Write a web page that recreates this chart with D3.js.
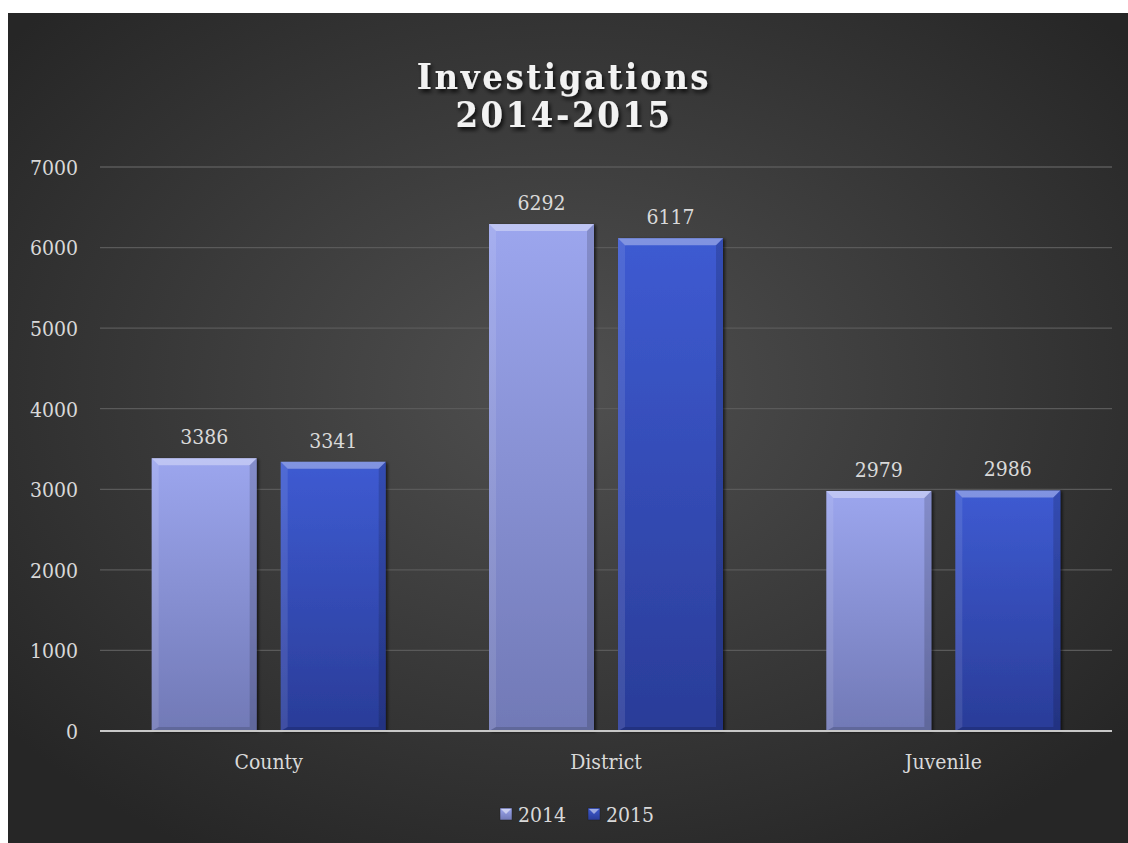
<!DOCTYPE html>
<html><head><meta charset="utf-8">
<script src="https://cdn.jsdelivr.net/npm/d3@7"></script>
<style>body{margin:0;background:#fff}svg{display:block}</style>
</head><body>
<script>
const categories = ["County", "District", "Juvenile"];
const seriesNames = ["2014", "2015"];
const values2014 = [3386, 6292, 2979];
const values2015 = [3341, 6117, 2986];
const yTicks = [0, 1000, 2000, 3000, 4000, 5000, 6000, 7000];
const titleLines = ["Investigations", "2014-2015"];

const W = 1128, H = 843;
const svg = d3.select("body").append("svg").attr("width", W).attr("height", H);
const defs = svg.append("defs");

const bg = defs.append("radialGradient").attr("id", "bg").attr("cx", "50%").attr("cy", "45%").attr("r", "65%");
bg.append("stop").attr("offset", "0%").attr("stop-color", "#505050");
bg.append("stop").attr("offset", "100%").attr("stop-color", "#262626");

const cols = [["#9ca6ee", "#7179b6"], ["#3e5bd2", "#2a3c98"]];
cols.forEach((c, i) => {
  const g = defs.append("linearGradient").attr("id", "bar" + i).attr("x1", 0).attr("y1", 0).attr("x2", 0).attr("y2", 1);
  g.append("stop").attr("offset", "0%").attr("stop-color", c[0]);
  g.append("stop").attr("offset", "100%").attr("stop-color", c[1]);
});
const sh = defs.append("filter").attr("id", "ts").attr("x", "-10%").attr("y", "-10%").attr("width", "120%").attr("height", "140%");
sh.append("feDropShadow").attr("dx", 2).attr("dy", 3).attr("stdDeviation", 2).attr("flood-color", "#000").attr("flood-opacity", 0.8);
const bs = defs.append("filter").attr("id", "bs").attr("x", "-10%").attr("y", "-5%").attr("width", "125%").attr("height", "110%");
bs.append("feDropShadow").attr("dx", 2).attr("dy", 1).attr("stdDeviation", 1.5).attr("flood-color", "#000").attr("flood-opacity", 0.6);

svg.append("rect").attr("x", 8).attr("y", 13).attr("width", W - 8).attr("height", H - 13).attr("fill", "url(#bg)");

const font = "'DejaVu Serif Condensed', 'DejaVu Serif', serif";
const fs = 21;

// title
svg.append("g").attr("filter", "url(#ts)").selectAll("text").data(titleLines).join("text")
  .attr("x", 564).attr("y", (d, i) => 89 + i * 38)
  .attr("text-anchor", "middle").attr("font-family", font).attr("font-weight", "bold")
  .attr("font-size", 36).attr("letter-spacing", 2.6).attr("fill", "#f2f2f2").text(d => d);

const x0 = d3.scaleBand().domain(categories).range([100, 1112]).paddingInner(0).paddingOuter(0);
const bw0 = x0.bandwidth();
const x1 = d3.scaleBand().domain(seriesNames).range([(bw0 - 234) / 2, (bw0 + 234) / 2]).paddingInner(24 / 129).paddingOuter(0);
const y = d3.scaleLinear().domain([0, 7000]).range([731, 167]);

// grid
svg.append("g").selectAll("line").data(yTicks.slice(1)).join("line")
  .attr("x1", 100).attr("x2", 1112).attr("y1", d => y(d)).attr("y2", d => y(d))
  .attr("stroke", "#5a5a5a").attr("stroke-width", 1.3);

// y axis labels
const ya = svg.append("g").attr("transform", "translate(78,0)")
  .call(d3.axisLeft(y).tickValues(yTicks).tickFormat(d3.format("d")).tickSize(0).tickPadding(0));
ya.select(".domain").remove();
ya.selectAll("text").attr("font-family", font).attr("font-size", fs).attr("fill", "#d9d9d9").attr("dy", "0.35em");

const data = categories.map((c, i) => ({ c, vals: [values2014[i], values2015[i]] }));

const groups = svg.append("g").selectAll("g").data(data).join("g")
  .attr("transform", d => `translate(${x0(d.c)},0)`);

groups.each(function (d) {
  const g = d3.select(this);
  d.vals.forEach((v, i) => {
    const bx = x1(seriesNames[i]), bw = x1.bandwidth(), by = y(v), bh = y(0) - y(v);
    const bg2 = g.append("g").attr("filter", "url(#bs)");
    bg2.append("rect").attr("x", bx).attr("y", by).attr("width", bw).attr("height", bh).attr("fill", `url(#bar${i})`);
    bg2.append("path").attr("d", `M${bx},${by}L${bx + bw},${by}L${bx + bw - 7},${by + 7}L${bx + 7},${by + 7}Z`)
      .attr("fill", "#ffffff").attr("opacity", 0.35);
    bg2.append("path").attr("d", `M${bx},${by}L${bx + 7},${by + 7}L${bx + 7},${by + bh - 4}L${bx},${by + bh}Z`)
      .attr("fill", "#ffffff").attr("opacity", 0.1);
    bg2.append("path").attr("d", `M${bx + bw},${by}L${bx + bw - 7},${by + 7}L${bx + bw - 7},${by + bh - 4}L${bx + bw},${by + bh}Z`)
      .attr("fill", "#000").attr("opacity", 0.15);
    bg2.append("path").attr("d", `M${bx},${by + bh}L${bx + 7},${by + bh - 4}L${bx + bw - 7},${by + bh - 4}L${bx + bw},${by + bh}Z`)
      .attr("fill", "#000").attr("opacity", 0.15);
    g.append("text").attr("x", bx + bw / 2).attr("y", by - 14).attr("text-anchor", "middle")
      .attr("font-family", font).attr("font-size", fs).attr("fill", "#d9d9d9").text(v);
  });
});

// x axis line
svg.append("line").attr("x1", 100).attr("x2", 1112).attr("y1", 731).attr("y2", 731)
  .attr("stroke", "#c8c8c8").attr("stroke-width", 2.2);

const xa = svg.append("g").attr("transform", "translate(0,731)")
  .call(d3.axisBottom(x0).tickSize(0).tickPadding(0));
xa.select(".domain").remove();
xa.selectAll("text").attr("font-family", font).attr("font-size", fs).attr("fill", "#d9d9d9").attr("dy", "0").attr("y", 38);

// legend
const leg = svg.append("g").selectAll("g").data(seriesNames).join("g")
  .attr("transform", (d, i) => `translate(${500 + i * 88},808)`);
leg.append("rect").attr("width", 12).attr("height", 12).attr("fill", (d, i) => `url(#bar${i})`)
  .attr("stroke", "#222").attr("stroke-width", 0.5);
leg.append("path").attr("d", "M1,1L11,1L6,6Z").attr("fill", "#fff").attr("opacity", 0.5);
leg.append("text").attr("x", 18).attr("y", 14).attr("font-family", font).attr("font-size", fs)
  .attr("fill", "#d9d9d9").text(d => d);
</script>
</body></html>
